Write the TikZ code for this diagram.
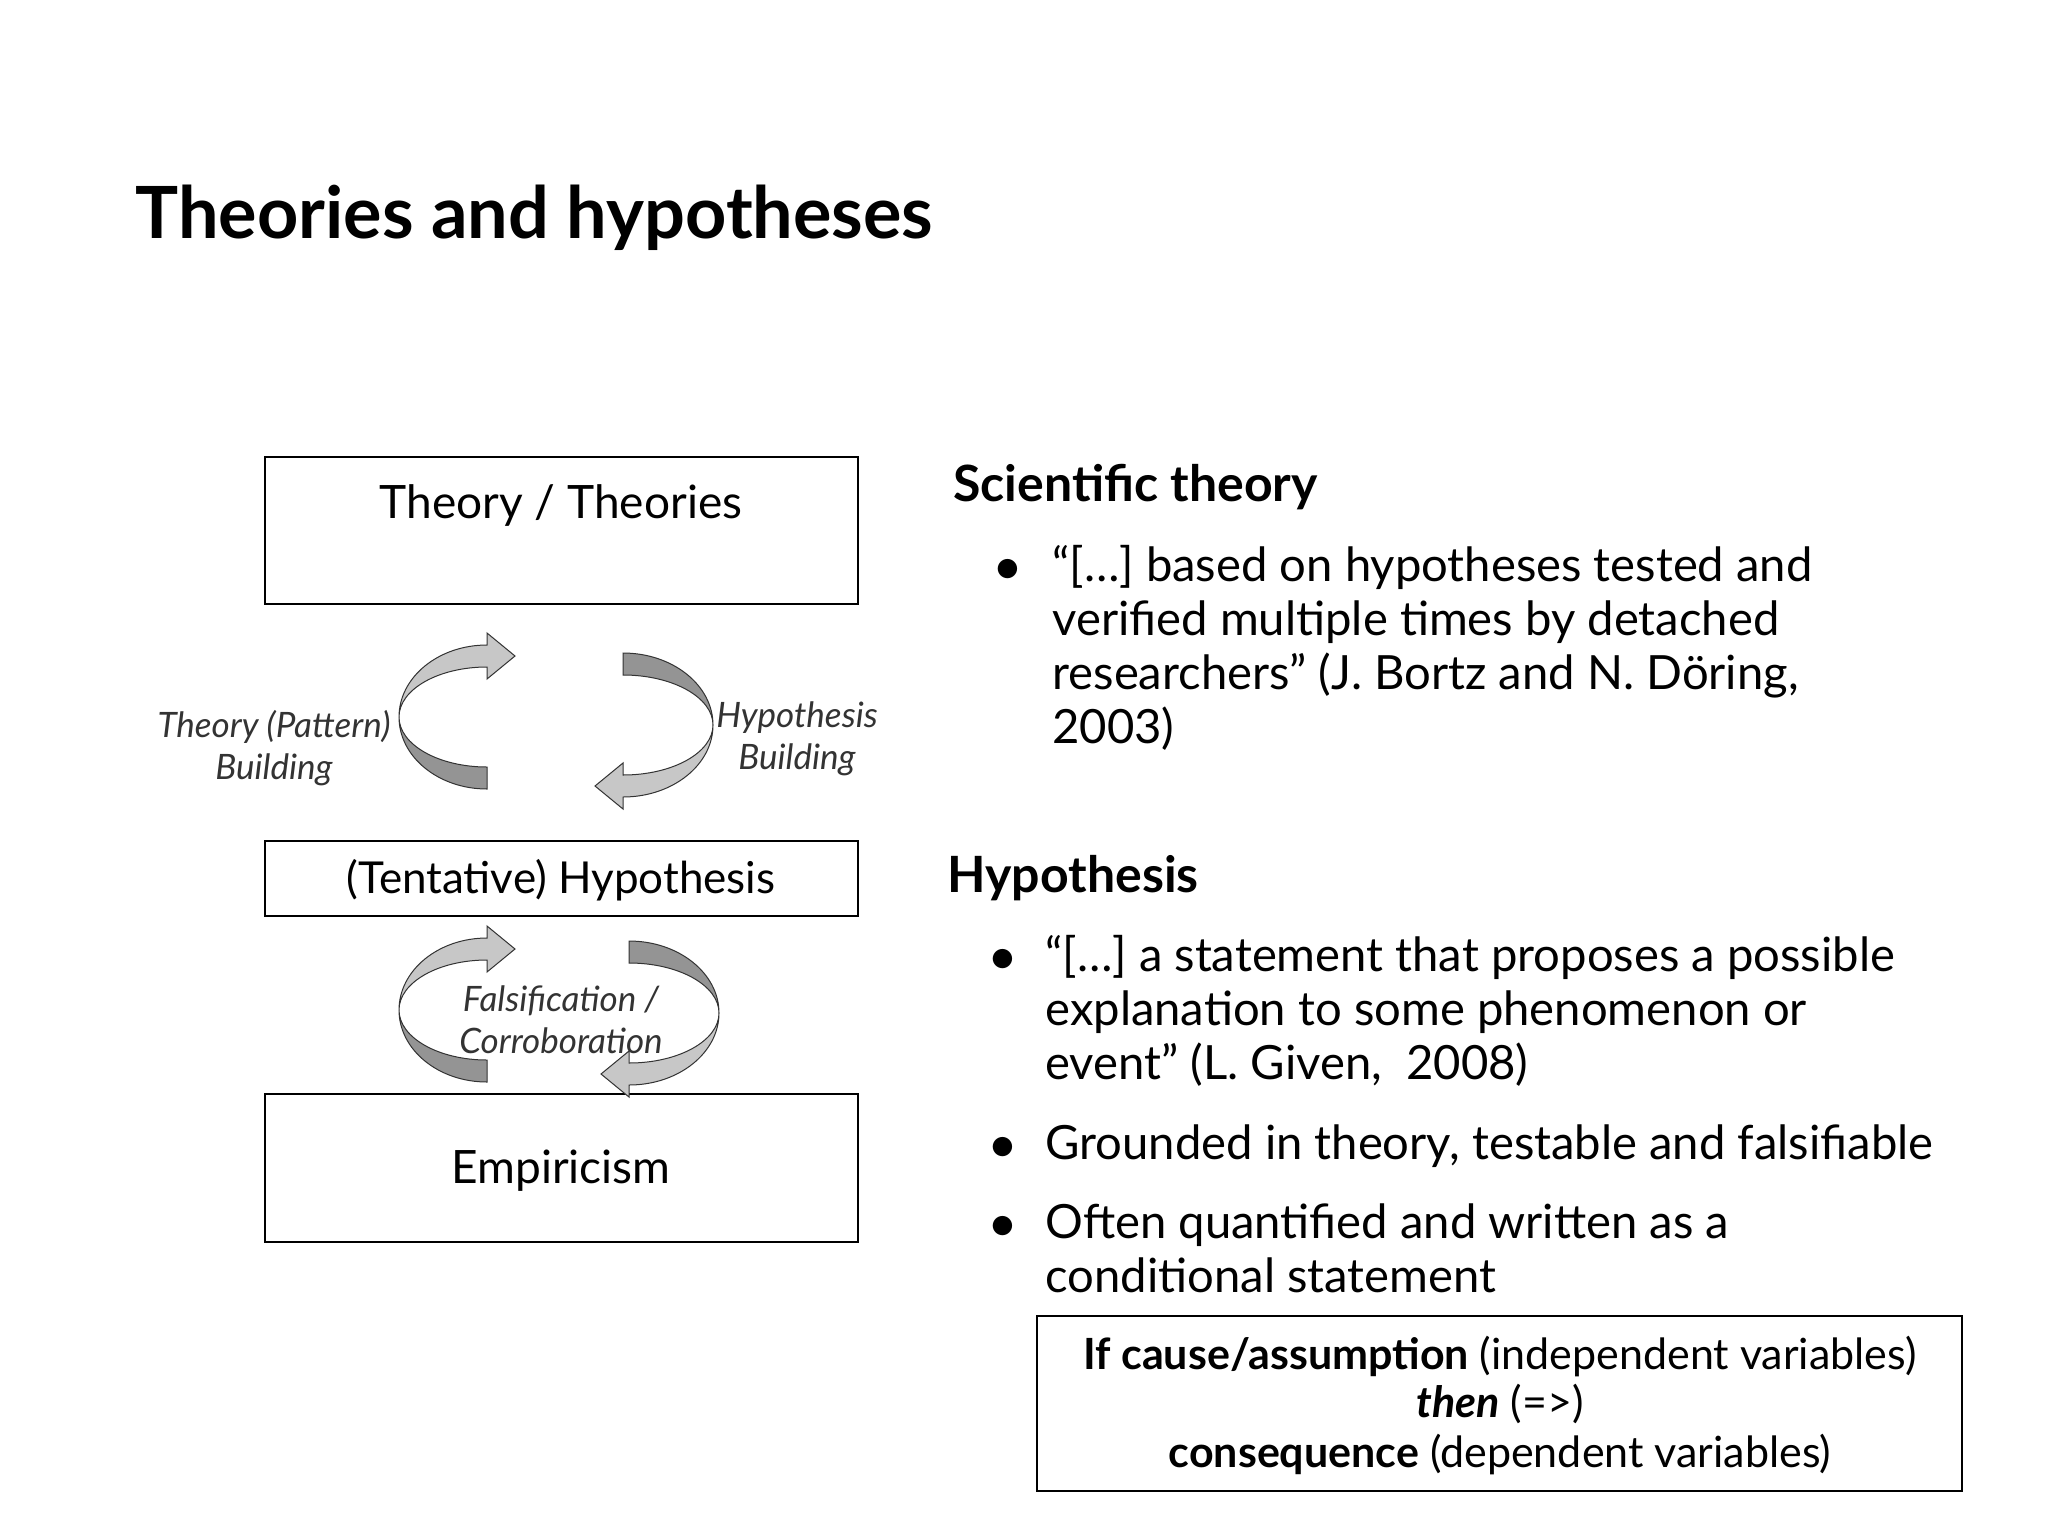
\documentclass[tikz,border=0pt]{standalone}
\usepackage{fontspec}
\setmainfont{Lato}
\begin{document}
\begin{tikzpicture}[x=0.5pt,y=-0.5pt,
  box/.style={draw,line width=1.2pt},
  lbl/.style={font=\fontsize{17.5}{21}\selectfont\itshape,text=black!80,align=center},
  body/.style={anchor=base west,inner sep=0pt,font=\fontsize{23.6}{27}\selectfont},
  head/.style={anchor=base west,inner sep=0pt,font=\fontsize{25}{28}\selectfont\bfseries},
  dk/.style={fill=black!42,draw=black!80,line width=0.5pt},
  lt/.style={fill=black!22,draw=black!80,line width=0.5pt},
  lc/.pic={
    \filldraw[dk] (0,72) arc[start angle=90,end angle=180,x radius=88,y radius=72] arc[start angle=180,end angle=90,x radius=88,y radius=50] -- cycle;
    \filldraw[lt] (-88,0) arc[start angle=180,end angle=270,x radius=88,y radius=72] -- (0,-84) -- (28,-61) -- (0,-38) -- (0,-50) arc[start angle=270,end angle=180,x radius=88,y radius=50] -- cycle;
  },
  rc/.pic={
    \filldraw[dk] (0,-72) arc[start angle=270,end angle=360,x radius=90,y radius=72] arc[start angle=360,end angle=270,x radius=90,y radius=50] -- cycle;
    \filldraw[lt] (90,0) arc[start angle=0,end angle=90,x radius=90,y radius=72] -- (0,84) -- (-28,61) -- (0,38) -- (0,50) arc[start angle=90,end angle=0,x radius=90,y radius=50] -- cycle;
  }]
\useasboundingbox[fill=white] (0,0) rectangle (2048,1536);
\node[anchor=base west,inner sep=0pt,font=\fontsize{36}{40}\selectfont\bfseries] (title) at (135,238) {Theories and hypotheses};
% left diagram
\draw[box] (265,457) rectangle (858,604);
\node[font=\fontsize{23}{27}\selectfont] (th) at (561,505) {Theory / Theories};
\draw[box] (265,841) rectangle (858,916);
\node[font=\fontsize{22}{26}\selectfont] (hy) at (561,880) {(Tentative) Hypothesis};
\draw[box] (265,1094) rectangle (858,1242);
\node[font=\fontsize{23}{27}\selectfont] (em) at (561,1171) {Empiricism};
\pic at (487,717) {lc};
\pic at (623,725) {rc};
\pic at (487,1010) {lc};
\pic at (629,1013) {rc};
\node[lbl] (l1) at (274,748) {Theory (Pattern)\\Building};
\node[lbl] (l2) at (797,739) {Hypothesis\\Building};
\node[lbl] (l3) at (561,1020) {Falsification /\\Corroboration};
% right side
\node[head] (h1) at (953,501) {Scientific theory};
\node[body] at (995,581) {$\bullet$};
\node[body] at (1052,581) {“[…] based on hypotheses tested and};
\node[body] at (1052,635) {verified multiple times by detached};
\node[body] at (1052,689) {researchers” (J. Bortz and N. Döring,};
\node[body] at (1052,743) {2003)};
\node[head] (h2) at (947,892) {Hypothesis};
\node[body] at (990,971) {$\bullet$};
\node[body] at (1045,971) {“[…] a statement that proposes a possible};
\node[body] at (1045,1025) {explanation to some phenomenon or};
\node[body] at (1045,1079) {event” (L. Given,\ \ 2008)};
\node[body] at (990,1159) {$\bullet$};
\node[body] at (1045,1159) {Grounded in theory, testable and falsifiable};
\node[body] at (990,1238) {$\bullet$};
\node[body] at (1045,1238) {Often quantified and written as a};
\node[body] at (1045,1292) {conditional statement};
\draw[box] (1037,1316) rectangle (1962,1491);
\begin{scope}[every node/.style={anchor=base,font=\fontsize{21.5}{25}\selectfont}]
\node (c1) at (1500,1369) {\textbf{If cause/assumption} (independent variables)};
\node (c2) at (1500,1417) {\textbf{\textit{then}} (=>)};
\node (c3) at (1500,1467) {\textbf{consequence} (dependent variables)};
\end{scope}
\end{tikzpicture}
\end{document}
